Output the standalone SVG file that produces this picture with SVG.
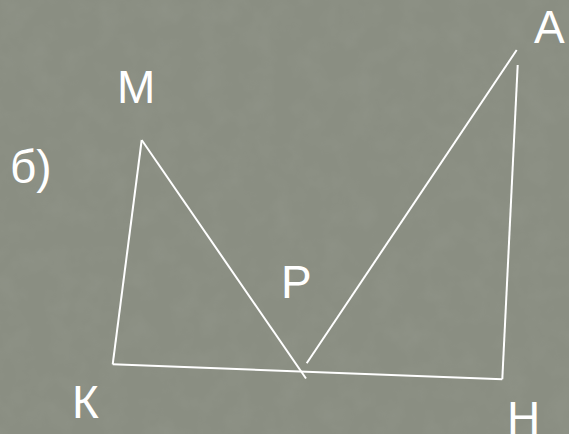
<svg xmlns="http://www.w3.org/2000/svg" width="569" height="434" viewBox="0 0 569 434">
<style>
.ln{stroke:#ffffff;stroke-width:2;fill:none;stroke-linecap:butt}
.lb{font-family:"Liberation Sans",Arial,sans-serif;font-size:46px;fill:#ffffff}
</style>
<defs>
<filter id="tex" x="0" y="0" width="100%" height="100%">
<feTurbulence type="fractalNoise" baseFrequency="0.04" numOctaves="3" seed="4" result="n"/>
<feColorMatrix in="n" type="matrix" values="0 0 0 0 0.45  0 0 0 0 0.47  0 0 0 0 0.42  0 0 0 -1.2 0.75"/>
</filter>
</defs>
<rect width="569" height="434" fill="#8a8e82"/>
<rect width="569" height="434" filter="url(#tex)" opacity="0.15"/>
<g id="connectors">
<line class="ln" x1="141.7" y1="140" x2="112.7" y2="364.3"/>
<line class="ln" x1="141.7" y1="140" x2="306" y2="378.5"/>
<line class="ln" x1="112.7" y1="364.3" x2="502.3" y2="379.3"/>
<line class="ln" x1="306.7" y1="363.3" x2="516.7" y2="50"/>
<line class="ln" x1="517.7" y1="65" x2="502.3" y2="379.3"/>
</g>
<g id="label-b"><text class="lb" x="10" y="183">б)</text></g>
<g id="node-M"><text class="lb" x="117" y="103">М</text></g>
<g id="node-A"><text class="lb" x="534" y="43">А</text></g>
<g id="node-P"><text class="lb" x="281" y="298">Р</text></g>
<g id="node-K"><text class="lb" x="72" y="418">К</text></g>
<g id="node-H"><text class="lb" x="507" y="434">Н</text></g>
</svg>
